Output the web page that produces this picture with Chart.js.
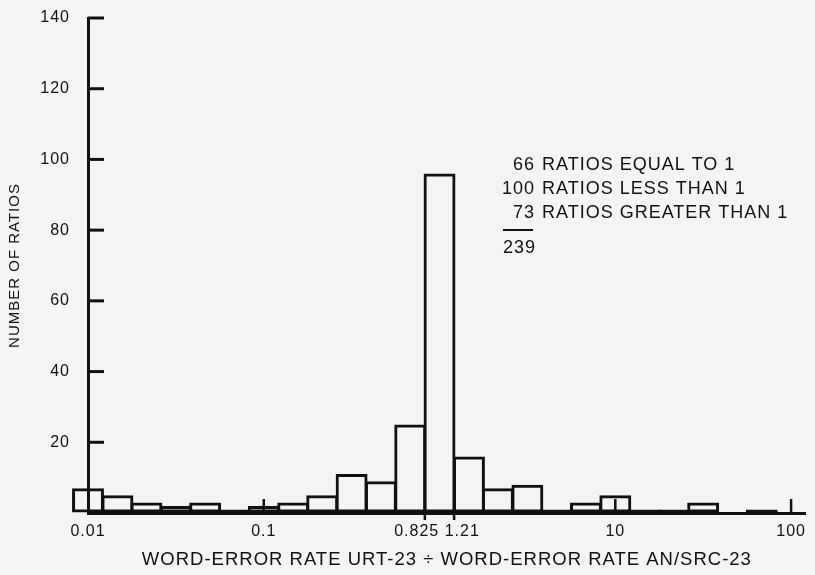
<!DOCTYPE html>
<html>
<head>
<meta charset="utf-8">
<script src="https://cdn.jsdelivr.net/npm/chart.js@4/dist/chart.umd.min.js"></script>
<style>
  html, body { margin: 0; padding: 0; background: #f4f4f2; }
  canvas { display: block; }
</style>
</head>
<body>
<canvas id="histChart" width="815" height="575"></canvas>
<script>
// bin centres (ratio), six bins per decade
const binCenters = [0.01, 0.0147, 0.0215, 0.0316, 0.0464, 0.0681,
                    0.1, 0.147, 0.215, 0.316, 0.464, 0.681,
                    1, 1.47, 2.15, 3.16, 4.64, 6.81,
                    10, 14.7, 21.5, 31.6, 46.4, 68.1, 100];
// number of ratios in each bin
const ratioCounts = [7, 5, 3, 2, 3, 1,
                     2, 3, 5, 11, 9, 25,
                     96, 16, 7, 8, 1, 3,
                     5, 1, 1, 3, 0, 1, 0];

const xTickValues = [0.01, 0.1, 0.825, 1.21, 10, 100];
const xTickLabels = ['0.01', '0.1', '0.825\u00a0\u00a0\u00a0', '\u00a0\u00a0\u00a01.21', '10', '100'];
const yTickValues = [20, 40, 60, 80, 100, 120, 140];

const summaryCounts = ['66', '100', '73'];
const summaryLabels = ['RATIOS EQUAL TO 1', 'RATIOS LESS THAN 1', 'RATIOS GREATER THAN 1'];
const summaryTotal = '239';

const ink = '#111111';
const fontFamily = '"Liberation Sans", Arial, sans-serif';

// hand-drawn style extras: inward ticks and the summary block
const inkPlugin = {
    id: 'ink',
    beforeUpdate(chart) { chart.ctx.letterSpacing = '1px'; },
    beforeDraw(chart) { chart.ctx.letterSpacing = '1px'; },
    afterDraw(chart) {
        const {ctx, scales: {x, y}} = chart;
        const base = y.getPixelForValue(0);
        ctx.save();
        ctx.strokeStyle = ink;
        ctx.lineWidth = 3;
        yTickValues.forEach(v => {
            const py = y.getPixelForValue(v);
            ctx.beginPath();
            ctx.moveTo(x.left, py);
            ctx.lineTo(x.left + 16, py);
            ctx.stroke();
        });
        ctx.lineWidth = 2.5;
        xTickValues.slice(1).forEach(v => {
            const px = x.getPixelForValue(v);
            const down = (v === 0.825 || v === 1.21);
            ctx.beginPath();
            ctx.moveTo(px, base);
            ctx.lineTo(px, down ? base + 7 : base - 14);
            ctx.stroke();
        });

        ctx.letterSpacing = '1px';
        ctx.fillStyle = ink;
        ctx.font = '18px ' + fontFamily;
        ctx.textBaseline = 'middle';
        const rowY = [165, 189, 213];
        summaryCounts.forEach((c, i) => {
            ctx.textAlign = 'right';
            ctx.fillText(c, 535, rowY[i]);
            ctx.textAlign = 'left';
            ctx.fillText(summaryLabels[i], 542, rowY[i]);
        });
        ctx.lineWidth = 2;
        ctx.beginPath();
        ctx.moveTo(503, 230);
        ctx.lineTo(533, 230);
        ctx.stroke();
        ctx.textAlign = 'left';
        ctx.fillText(summaryTotal, 503, 248);
        ctx.restore();
    }
};

const ctx = document.getElementById('histChart').getContext('2d');

const histChart = new Chart(ctx, {
    type: 'bar',
    data: {
        datasets: [{
            data: binCenters.map((b, i) => ({x: b, y: ratioCounts[i]})),
            backgroundColor: 'rgba(0,0,0,0)',
            borderColor: ink,
            borderWidth: 3,
            borderSkipped: false,
            barPercentage: 1.1,
            categoryPercentage: 1,
            clip: false
        }]
    },
    options: {
        responsive: false,
        devicePixelRatio: 1,
        animation: false,
        layout: { padding: { top: 18, right: 3, left: 0, bottom: 0 } },
        plugins: {
            legend: { display: false },
            tooltip: { enabled: false }
        },
        scales: {
            x: {
                type: 'logarithmic',
                min: 0.01,
                max: 121.15,
                afterBuildTicks: (scale) => {
                    scale.ticks = xTickValues.map(v => ({value: v}));
                },
                afterFit: (scale) => { scale.height = 62; },
                grid: { display: true, drawOnChartArea: false, drawTicks: false },
                border: { display: true, color: ink, width: 3 },
                ticks: {
                    autoSkip: false,
                    maxRotation: 0,
                    padding: 9,
                    color: ink,
                    font: { family: fontFamily, size: 16 },
                    callback: (value, index) => xTickLabels[index]
                },
                title: {
                    display: true,
                    text: 'WORD-ERROR RATE URT-23 ÷ WORD-ERROR RATE AN/SRC-23',
                    color: ink,
                    font: { family: fontFamily, size: 18.5 },
                    padding: { top: 4, bottom: 4 }
                }
            },
            y: {
                min: 0,
                max: 140,
                afterFit: (scale) => { scale.width = 88; },
                // invisible outward tick marks only push the labels away from the axis
                grid: { display: true, drawOnChartArea: false, drawTicks: true,
                        tickLength: 18, tickColor: 'rgba(0,0,0,0)' },
                border: { display: true, color: ink, width: 3 },
                ticks: {
                    stepSize: 20,
                    padding: 0,
                    color: ink,
                    font: { family: fontFamily, size: 16 },
                    callback: (value) => value === 0 ? '' : value
                },
                title: {
                    display: true,
                    text: 'NUMBER OF RATIOS',
                    color: ink,
                    font: { family: fontFamily, size: 15 },
                    padding: { top: 6, bottom: 4 }
                }
            }
        }
    },
    plugins: [inkPlugin]
});
</script>
</body>
</html>
